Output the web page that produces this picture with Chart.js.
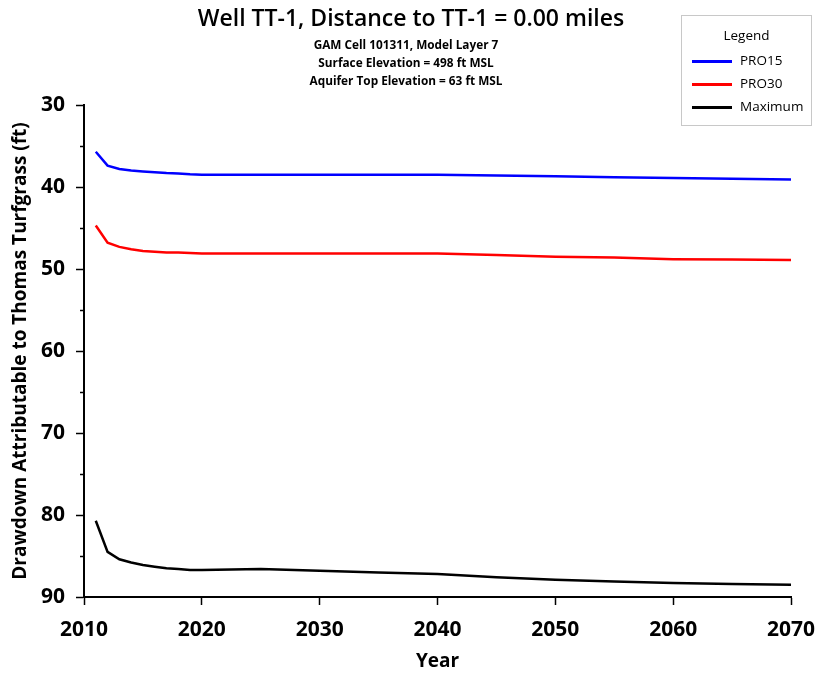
<!DOCTYPE html>
<html>
<head>
<meta charset="utf-8">
<script src="https://cdn.jsdelivr.net/npm/chart.js@4.4.1/dist/chart.umd.min.js"></script>
<style>
  body { margin: 0; background: #fff; }
  #wrap { position: relative; width: 815px; height: 673px; font-family: "Open Sans", sans-serif; }
  #title { position: absolute; left: 0; width: 822px; top: 1px; text-align: center; font-size: 23px; font-weight: 600; color: #000; }
  .sub { position: absolute; left: 0; width: 812px; text-align: center; font-size: 11.8px; font-weight: 700; color: #000; }
  #legend { position: absolute; left: 681px; top: 15px; width: 129px; height: 109px; border: 1px solid #c8c8c8; font-size: 13.5px; color: #000; }
  #legend .hd { position: absolute; top: 10px; width: 100%; text-align: center; }
  #legend .it { position: absolute; left: 10px; height: 18px; }
  #legend .it span.ln { position: absolute; left: 0; top: 8px; width: 40px; height: 3px; }
  #legend .it span.tx { position: absolute; left: 48px; top: -1px; white-space: nowrap; }
</style>
</head>
<body>
<div id="wrap">
  <canvas id="myChart" width="815" height="673"></canvas>
  <div id="title">Well TT-1, Distance to TT-1 = 0.00 miles</div>
  <div class="sub" style="top:36px">GAM Cell 101311, Model Layer 7</div>
  <div class="sub" style="top:54px">Surface Elevation = 498 ft MSL</div>
  <div class="sub" style="top:72px">Aquifer Top Elevation = 63 ft MSL</div>
  <div id="legend">
    <div class="hd">Legend</div>
    <div class="it" style="top:36px"><span class="ln" style="background:#0000ff"></span><span class="tx">PRO15</span></div>
    <div class="it" style="top:59px"><span class="ln" style="background:#ff0000"></span><span class="tx">PRO30</span></div>
    <div class="it" style="top:82px"><span class="ln" style="background:#000000"></span><span class="tx">Maximum</span></div>
  </div>
</div>
<script>
const years = [2011, 2012, 2013, 2014, 2015, 2016, 2017, 2018, 2019, 2020, 2025, 2030, 2035, 2040, 2045, 2050, 2055, 2060, 2065, 2070];
const pro15 = [35.7, 37.4, 37.8, 38.0, 38.1, 38.2, 38.3, 38.35, 38.45, 38.5, 38.5, 38.5, 38.5, 38.5, 38.6, 38.7, 38.8, 38.9, 39.0, 39.1];
const pro30 = [44.7, 46.8, 47.3, 47.6, 47.8, 47.9, 48.0, 48.0, 48.05, 48.1, 48.1, 48.1, 48.1, 48.1, 48.3, 48.5, 48.6, 48.8, 48.85, 48.9];
const maximum = [80.7, 84.5, 85.4, 85.8, 86.1, 86.3, 86.5, 86.6, 86.7, 86.7, 86.6, 86.8, 87.0, 87.2, 87.6, 87.9, 88.1, 88.3, 88.4, 88.5];
const xTicks = [2010, 2020, 2030, 2040, 2050, 2060, 2070];
const yTicks = [30, 40, 50, 60, 70, 80, 90];

function pts(vals) {
    return years.map((y, i) => ({ x: y, y: vals[i] }));
}

// short minor ticks at the 5s on the y axis
const minorTicks = {
    id: 'minorTicks',
    afterDraw(chart) {
        const ys = chart.scales.y;
        const c = chart.ctx;
        c.save();
        c.strokeStyle = '#000';
        c.lineWidth = 1.5;
        for (let v = 35; v < 90; v += 10) {
            const p = Math.round(ys.getPixelForValue(v)) + 0.5;
            c.beginPath();
            c.moveTo(ys.right - 4, p);
            c.lineTo(ys.right, p);
            c.stroke();
        }
        c.restore();
    }
};

const ctx = document.getElementById('myChart').getContext('2d');
const myChart = new Chart(ctx, {
    type: 'line',
    data: {
        datasets: [
            { label: 'PRO15', data: pts(pro15), borderColor: '#0000ff', borderWidth: 2.5, pointRadius: 0, tension: 0 },
            { label: 'PRO30', data: pts(pro30), borderColor: '#ff0000', borderWidth: 2.5, pointRadius: 0, tension: 0 },
            { label: 'Maximum', data: pts(maximum), borderColor: '#000000', borderWidth: 2.5, pointRadius: 0, tension: 0 }
        ]
    },
    options: {
        responsive: false,
        animation: false,
        layout: { padding: { top: 105, right: 24, left: 0, bottom: 0 } },
        plugins: { legend: { display: false }, tooltip: { enabled: false } },
        scales: {
            x: {
                type: 'linear',
                min: 2010,
                max: 2070,
                afterFit: s => { s.height = 76; s.paddingLeft = 0; s.paddingRight = 0; },
                afterBuildTicks: s => { s.ticks = xTicks.map(v => ({ value: v })); },
                grid: { drawOnChartArea: false, tickLength: 8, tickWidth: 1.5, tickColor: '#000' },
                border: { color: '#000', width: 2 },
                ticks: { color: '#000', font: { family: 'Open Sans', size: 21, weight: 'bold' }, padding: 12, maxRotation: 0, callback: v => String(v) },
                title: { display: true, text: 'Year', color: '#000', font: { family: 'Open Sans', size: 19, weight: 'bold' }, padding: { top: 4, bottom: 0 } }
            },
            y: {
                reverse: true,
                min: 30,
                max: 90,
                afterFit: s => { s.width = 84; s.paddingTop = 0; s.paddingBottom = 0; },
                afterBuildTicks: s => { s.ticks = yTicks.map(v => ({ value: v })); },
                grid: { drawOnChartArea: false, tickLength: 8, tickWidth: 1.5, tickColor: '#000' },
                border: { color: '#000', width: 2 },
                ticks: { color: '#000', font: { family: 'Open Sans', size: 21, weight: 'bold' }, padding: 11 },
                title: { display: true, text: 'Drawdown Attributable to Thomas Turfgrass (ft)', color: '#000', font: { family: 'Open Sans', size: 19, weight: 'bold' }, padding: { top: 9, bottom: 0 } }
            }
        }
    },
    plugins: [minorTicks]
});
</script>
</body>
</html>
